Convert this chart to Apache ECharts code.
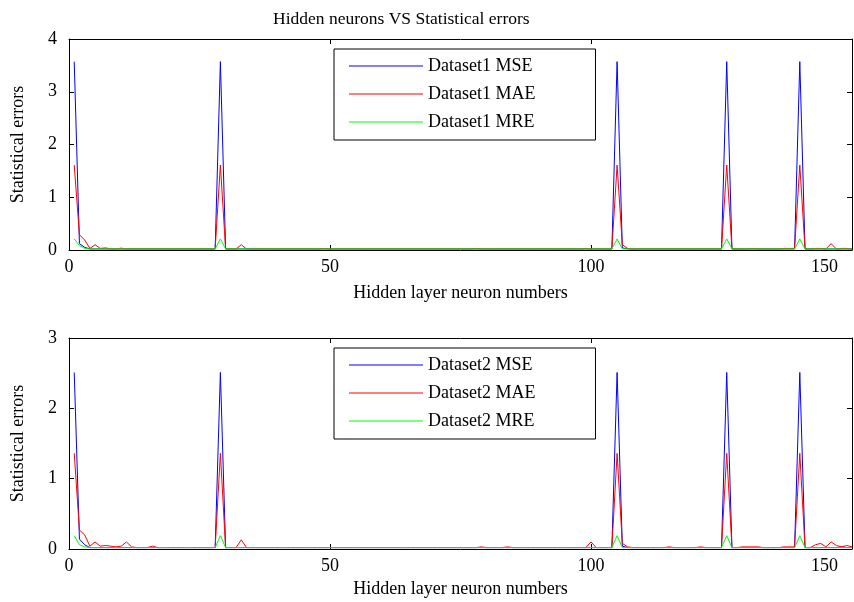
<!DOCTYPE html>
<html>
<head>
<meta charset="utf-8">
<script src="https://cdn.jsdelivr.net/npm/echarts@6/dist/echarts.min.js"></script>
<style>
html,body{margin:0;padding:0;background:#fff;}
#chart{width:854px;height:602px;}
</style>
</head>
<body>
<div id="chart"></div>
<script>
// Tick labels / axis ranges
const xTicks = [0, 50, 100, 150];
const yTicksTop = [0, 1, 2, 3, 4];
const yTicksBottom = [0, 1, 2, 3];

// Dataset1 (hidden neurons 1..150)
const mse1 = [
  3.57,0.12,0.05,0.02,0.02,0.02,0.02,0.02,0.02,0.02,
  0.02,0.02,0.02,0.02,0.02,0.02,0.02,0.02,0.02,0.02,
  0.02,0.02,0.02,0.02,0.02,0.02,0.02,0.02,3.57,0.02,
  0.02,0.02,0.02,0.02,0.02,0.02,0.02,0.02,0.02,0.02,
  0.02,0.02,0.02,0.02,0.02,0.02,0.02,0.02,0.02,0.02,
  0.02,0.02,0.02,0.02,0.02,0.02,0.02,0.02,0.02,0.02,
  0.02,0.02,0.02,0.02,0.02,0.02,0.02,0.02,0.02,0.02,
  0.02,0.02,0.02,0.02,0.02,0.02,0.02,0.02,0.02,0.02,
  0.02,0.02,0.02,0.02,0.02,0.02,0.02,0.02,0.02,0.02,
  0.02,0.02,0.02,0.02,0.02,0.02,0.02,0.02,0.02,0.02,
  0.02,0.02,0.02,0.02,3.57,0.04,0.02,0.02,0.02,0.02,
  0.02,0.02,0.02,0.02,0.02,0.02,0.02,0.02,0.02,0.02,
  0.02,0.02,0.02,0.02,0.02,3.57,0.02,0.02,0.02,0.02,
  0.02,0.02,0.02,0.02,0.02,0.02,0.02,0.02,0.02,3.57,
  0.02,0.02,0.02,0.02,0.02,0.02,0.02,0.02,0.02,0.02
];
const mae1 = [
  1.61,0.29,0.19,0.03,0.10,0.03,0.04,0.02,0.02,0.035,
  0.02,0.02,0.02,0.02,0.02,0.02,0.02,0.02,0.02,0.02,
  0.02,0.02,0.02,0.02,0.02,0.02,0.02,0.02,1.61,0.02,
  0.02,0.02,0.10,0.02,0.02,0.02,0.02,0.02,0.02,0.02,
  0.02,0.02,0.02,0.02,0.02,0.02,0.02,0.02,0.03,0.02,
  0.02,0.02,0.02,0.02,0.02,0.02,0.02,0.02,0.02,0.02,
  0.02,0.02,0.02,0.02,0.02,0.02,0.02,0.02,0.02,0.02,
  0.02,0.02,0.02,0.02,0.02,0.02,0.02,0.03,0.02,0.02,
  0.02,0.02,0.02,0.02,0.02,0.02,0.02,0.02,0.02,0.02,
  0.02,0.02,0.02,0.02,0.02,0.02,0.02,0.02,0.03,0.02,
  0.02,0.02,0.02,0.02,1.61,0.10,0.03,0.02,0.02,0.02,
  0.02,0.02,0.02,0.02,0.02,0.02,0.02,0.02,0.02,0.02,
  0.02,0.02,0.02,0.02,0.02,1.61,0.02,0.02,0.02,0.02,
  0.03,0.02,0.02,0.02,0.02,0.02,0.03,0.03,0.03,1.61,
  0.02,0.02,0.03,0.03,0.02,0.12,0.02,0.03,0.03,0.02
];
const mre1 = [
  0.21,0.085,0.03,0.02,0.02,0.02,0.02,0.02,0.02,0.02,
  0.02,0.02,0.02,0.02,0.02,0.02,0.02,0.02,0.02,0.02,
  0.02,0.02,0.02,0.02,0.02,0.02,0.02,0.02,0.21,0.02,
  0.02,0.02,0.02,0.02,0.02,0.02,0.02,0.02,0.02,0.02,
  0.02,0.02,0.02,0.02,0.02,0.02,0.02,0.02,0.02,0.02,
  0.02,0.02,0.02,0.02,0.02,0.02,0.02,0.02,0.02,0.02,
  0.02,0.02,0.02,0.02,0.02,0.02,0.02,0.02,0.02,0.02,
  0.02,0.02,0.02,0.02,0.02,0.02,0.02,0.02,0.02,0.02,
  0.02,0.02,0.02,0.02,0.02,0.02,0.02,0.02,0.02,0.02,
  0.02,0.02,0.02,0.02,0.02,0.02,0.02,0.02,0.02,0.02,
  0.02,0.02,0.02,0.02,0.21,0.02,0.02,0.02,0.02,0.02,
  0.02,0.02,0.02,0.02,0.02,0.02,0.02,0.02,0.02,0.02,
  0.02,0.02,0.02,0.02,0.02,0.21,0.02,0.02,0.02,0.02,
  0.02,0.02,0.02,0.02,0.02,0.02,0.02,0.02,0.02,0.21,
  0.02,0.02,0.02,0.02,0.02,0.02,0.02,0.02,0.02,0.02
];

// Dataset2
const mse2 = [
  2.51,0.14,0.06,0.02,0.02,0.02,0.02,0.02,0.02,0.02,
  0.02,0.02,0.02,0.02,0.02,0.02,0.02,0.02,0.02,0.02,
  0.02,0.02,0.02,0.02,0.02,0.02,0.02,0.02,2.51,0.02,
  0.02,0.02,0.02,0.02,0.02,0.02,0.02,0.02,0.02,0.02,
  0.02,0.02,0.02,0.02,0.02,0.02,0.02,0.02,0.02,0.02,
  0.02,0.02,0.02,0.02,0.02,0.02,0.02,0.02,0.02,0.02,
  0.02,0.02,0.02,0.02,0.02,0.02,0.02,0.02,0.02,0.02,
  0.02,0.02,0.02,0.02,0.02,0.02,0.02,0.02,0.02,0.02,
  0.02,0.02,0.02,0.02,0.02,0.02,0.02,0.02,0.02,0.02,
  0.02,0.02,0.02,0.02,0.02,0.02,0.02,0.02,0.02,0.02,
  0.02,0.02,0.02,0.02,2.51,0.04,0.02,0.02,0.02,0.02,
  0.02,0.02,0.02,0.02,0.02,0.02,0.02,0.02,0.02,0.02,
  0.02,0.02,0.02,0.02,0.02,2.51,0.02,0.02,0.02,0.02,
  0.02,0.02,0.02,0.02,0.02,0.02,0.02,0.02,0.02,2.51,
  0.02,0.02,0.02,0.02,0.02,0.02,0.02,0.03,0.02,0.02
];
const mae2 = [
  1.36,0.27,0.20,0.04,0.10,0.04,0.05,0.04,0.03,0.04,
  0.10,0.03,0.02,0.02,0.02,0.04,0.02,0.02,0.02,0.02,
  0.02,0.02,0.02,0.02,0.02,0.02,0.02,0.02,1.36,0.02,
  0.02,0.02,0.13,0.02,0.02,0.02,0.02,0.02,0.02,0.02,
  0.02,0.02,0.02,0.02,0.02,0.02,0.02,0.02,0.02,0.02,
  0.02,0.02,0.02,0.02,0.02,0.02,0.02,0.02,0.02,0.02,
  0.02,0.02,0.02,0.02,0.02,0.02,0.02,0.02,0.02,0.02,
  0.02,0.02,0.02,0.02,0.02,0.02,0.02,0.02,0.03,0.02,
  0.02,0.02,0.02,0.03,0.02,0.02,0.02,0.02,0.02,0.02,
  0.02,0.02,0.02,0.02,0.02,0.02,0.02,0.02,0.02,0.10,
  0.02,0.02,0.02,0.02,1.36,0.08,0.03,0.02,0.02,0.02,
  0.02,0.02,0.02,0.02,0.03,0.02,0.02,0.02,0.02,0.02,
  0.03,0.02,0.02,0.02,0.02,1.36,0.02,0.02,0.03,0.03,
  0.03,0.03,0.02,0.02,0.02,0.02,0.03,0.03,0.03,1.36,
  0.02,0.02,0.06,0.08,0.03,0.10,0.05,0.03,0.05,0.03
];
const mre2 = [
  0.19,0.06,0.03,0.02,0.02,0.02,0.02,0.02,0.02,0.02,
  0.02,0.02,0.02,0.02,0.02,0.02,0.02,0.02,0.02,0.02,
  0.02,0.02,0.02,0.02,0.02,0.02,0.02,0.02,0.19,0.02,
  0.02,0.02,0.02,0.02,0.02,0.02,0.02,0.02,0.02,0.02,
  0.02,0.02,0.02,0.02,0.02,0.02,0.02,0.02,0.02,0.02,
  0.02,0.02,0.02,0.02,0.02,0.02,0.02,0.02,0.02,0.02,
  0.02,0.02,0.02,0.02,0.02,0.02,0.02,0.02,0.02,0.02,
  0.02,0.02,0.02,0.02,0.02,0.02,0.02,0.02,0.02,0.02,
  0.02,0.02,0.02,0.02,0.02,0.02,0.02,0.02,0.02,0.02,
  0.02,0.02,0.02,0.02,0.02,0.02,0.02,0.02,0.02,0.02,
  0.02,0.02,0.02,0.02,0.19,0.02,0.02,0.02,0.02,0.02,
  0.02,0.02,0.02,0.02,0.02,0.02,0.02,0.02,0.02,0.02,
  0.02,0.02,0.02,0.02,0.02,0.19,0.02,0.02,0.02,0.02,
  0.02,0.02,0.02,0.02,0.02,0.02,0.02,0.02,0.02,0.19,
  0.02,0.02,0.02,0.02,0.02,0.02,0.02,0.02,0.02,0.02
];

const FONT = '"Liberation Serif", "Times New Roman", serif';
const pairs = arr => arr.map((v, i) => [i + 1, v]);

function xAxisPair(gi, nameGap) {
  const base = {
    gridIndex: gi, type: 'value',
    min: xTicks[0], max: xTicks[xTicks.length - 1], interval: xTicks[1] - xTicks[0],
    splitLine: {show: false},
    axisLine: {show: true, onZero: false, lineStyle: {color: '#000', width: 1}},
    axisTick: {show: true, inside: true, length: 5, lineStyle: {color: '#000'}}
  };
  return [
    Object.assign({}, base, {
      position: 'bottom',
      name: 'Hidden layer neuron numbers', nameLocation: 'middle', nameGap: nameGap,
      nameTextStyle: {fontFamily: FONT, fontSize: 18, color: '#000'},
      axisLabel: {show: true, margin: 8, fontFamily: FONT, fontSize: 18, color: '#000',
        showMaxLabel: true, alignMaxLabel: 'right',
        formatter: v => v === xTicks[xTicks.length - 1] ? '{m|' + v + '}' : String(v),
        rich: {m: {fontFamily: FONT, fontSize: 18, color: '#000', padding: [0, 14, 0, 0]}}}
    }),
    Object.assign({}, base, {position: 'top', axisLabel: {show: false}})
  ];
}
function yAxisPair(gi, ticks) {
  const base = {
    gridIndex: gi, type: 'value',
    min: ticks[0], max: ticks[ticks.length - 1], interval: ticks[1] - ticks[0],
    splitLine: {show: false},
    axisLine: {show: true, onZero: false, lineStyle: {color: '#000', width: 1}},
    axisTick: {show: true, inside: true, length: 5, lineStyle: {color: '#000'}}
  };
  return [
    Object.assign({}, base, {
      position: 'left',
      name: 'Statistical errors', nameLocation: 'middle', nameGap: 42,
      nameTextStyle: {fontFamily: FONT, fontSize: 18, color: '#000'},
      axisLabel: {show: true, margin: 12, fontFamily: FONT, fontSize: 18, color: '#000'}
    }),
    Object.assign({}, base, {position: 'right', axisLabel: {show: false}})
  ];
}
function lineSeries(name, data, color, xi, yi) {
  return {
    name: name, type: 'line', data: pairs(data),
    xAxisIndex: xi, yAxisIndex: yi,
    symbol: 'none', showSymbol: false,
    lineStyle: {color: color, width: 1}, itemStyle: {color: color},
    emphasis: {disabled: true}, animation: false
  };
}
function legend(top, names) {
  return {
    left: 334, top: top, orient: 'vertical',
    data: names, icon: 'rect', itemWidth: 74, itemHeight: 1, itemGap: 10,
    padding: [8, 60, 9, 15],
    borderColor: '#000', borderWidth: 1, backgroundColor: '#fff',
    textStyle: {fontFamily: FONT, fontSize: 18, color: '#000', lineHeight: 18},
    selectedMode: false
  };
}

const chart = echarts.init(document.getElementById('chart'), null, {renderer: 'canvas'});
chart.setOption({
  backgroundColor: '#fff',
  animation: false,
  title: {
    text: 'Hidden neurons VS Statistical errors', left: 268, top: 5,
    textStyle: {fontFamily: FONT, fontSize: 17.5, fontWeight: 'normal', color: '#000'}
  },
  grid: [
    {left: 69, top: 39, width: 783, height: 211},
    {left: 69, top: 338, width: 783, height: 211}
  ],
  xAxis: [].concat(xAxisPair(0, 34), xAxisPair(1, 31)),
  yAxis: [].concat(yAxisPair(0, yTicksTop), yAxisPair(1, yTicksBottom)),
  legend: [
    legend(49, ['Dataset1 MSE', 'Dataset1 MAE', 'Dataset1 MRE']),
    legend(348, ['Dataset2 MSE', 'Dataset2 MAE', 'Dataset2 MRE'])
  ],
  series: [
    lineSeries('Dataset1 MSE', mse1, '#0000ff', 0, 0),
    lineSeries('Dataset1 MAE', mae1, '#ff0000', 0, 0),
    lineSeries('Dataset1 MRE', mre1, '#00ff00', 0, 0),
    lineSeries('Dataset2 MSE', mse2, '#0000ff', 2, 2),
    lineSeries('Dataset2 MAE', mae2, '#ff0000', 2, 2),
    lineSeries('Dataset2 MRE', mre2, '#00ff00', 2, 2)
  ]
});
</script>
</body>
</html>
